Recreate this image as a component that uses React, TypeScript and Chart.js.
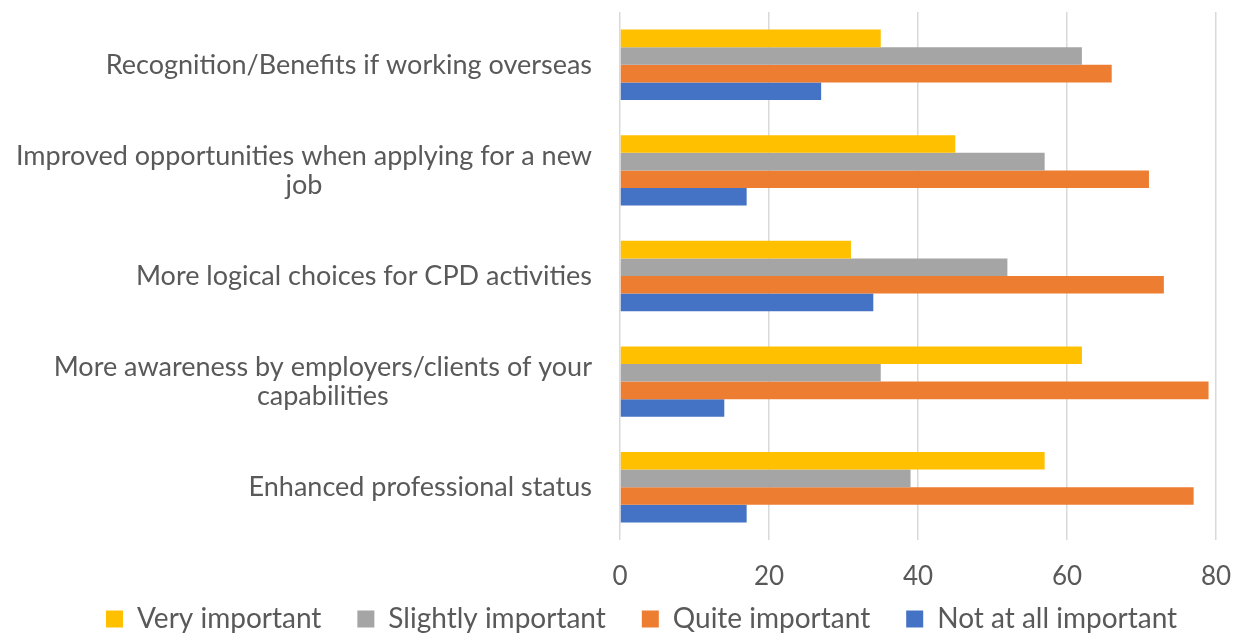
import React, { useEffect, useRef } from "react";
import { Chart, registerables } from "chart.js";

Chart.register(...registerables);

const categoryLines: string[][] = [
  ["Recognition/Benefits if working overseas"],
  ["Improved opportunities when applying for a new", "job"],
  ["More logical choices for CPD activities"],
  ["More awareness by employers/clients of your", "capabilities"],
  ["Enhanced professional status"],
];
const categories = categoryLines.map((l) => l.join(" "));

const veryImportant = [35, 45, 31, 62, 57];
const slightlyImportant = [62, 57, 52, 35, 39];
const quiteImportant = [66, 71, 73, 79, 77];
const notAtAllImportant = [27, 17, 34, 14, 17];

const xTicks = [0, 20, 40, 60, 80];

const FONT = "Lato, 'Open Sans', sans-serif";
const TEXT = "#595959";
const CAT_SIZE = 27;
const LINE_H = 29;
const PAD_LEFT = 70;
const LEGEND_GAP = 29;

const yLabelPlugin = {
  id: "yLabels",
  afterLayout(chart: any) {
    const lg = chart.legend;
    if (!lg) return;
    lg.top = chart.chartArea.bottom + LEGEND_GAP;
    lg.bottom = chart.height;
    lg.height = lg.bottom - lg.top;
  },
  afterDraw(chart: any) {
    const ctx = chart.ctx;
    const y = chart.scales.y;
    const area = chart.chartArea;
    ctx.save();
    ctx.font = `${CAT_SIZE}px ${FONT}`;
    ctx.fillStyle = TEXT;
    ctx.textBaseline = "middle";
    ctx.textAlign = "center";
    categoryLines.forEach((lines, i) => {
      const cy = y.getPixelForValue(i);
      const w = Math.max(...lines.map((l) => ctx.measureText(l).width));
      const cx = area.left - 28 - w / 2;
      lines.forEach((l, j) => {
        ctx.fillText(l, cx, cy + (j - (lines.length - 1) / 2) * LINE_H);
      });
    });
    ctx.restore();
  },
};

export default function App() {
  const ref = useRef<HTMLCanvasElement>(null);
  useEffect(() => {
    if (!ref.current) return;
    const chart = new Chart(ref.current, {
      type: "bar",
      data: {
        labels: categories,
        datasets: [
          { label: "Very important", data: veryImportant, backgroundColor: "#FFC000" },
          { label: "Slightly important", data: slightlyImportant, backgroundColor: "#A5A5A5" },
          { label: "Quite important", data: quiteImportant, backgroundColor: "#ED7D31" },
          { label: "Not at all important", data: notAtAllImportant, backgroundColor: "#4472C4" },
        ],
      },
      options: {
        indexAxis: "y",
        animation: false,
        responsive: false,
        datasets: { bar: { categoryPercentage: 0.667, barPercentage: 1 } },
        layout: { padding: { left: PAD_LEFT, right: 0, top: 12, bottom: 0 } },
        scales: {
          x: {
            min: 0,
            max: 80,
            afterBuildTicks: (scale: any) => {
              scale.ticks = xTicks.map((v) => ({ value: v }));
            },
            afterFit: (scale: any) => {
              scale.height = 53;
              scale.paddingRight = 29;
              scale.paddingLeft = 0;
            },
            grid: { color: "#D9D9D9", lineWidth: 1.5, drawTicks: false },
            border: { display: false },
            ticks: {
              padding: 21,
              color: TEXT,
              font: { family: FONT, size: 26 },
            },
          },
          y: {
            grid: { display: false },
            border: { display: false },
            ticks: { display: false },
            afterFit: (scale: any) => {
              scale.width = 620 - PAD_LEFT;
            },
          },
        },
        plugins: {
          legend: {
            position: "bottom",
            align: "start",
            maxHeight: 42,
            labels: {
              color: TEXT,
              font: { family: FONT, size: 28 },
              boxWidth: 17,
              boxHeight: 17,
              padding: 36,
            },
          },
          tooltip: { enabled: false },
        },
      },
      plugins: [yLabelPlugin],
    } as any);
    return () => chart.destroy();
  }, []);
  return (
    <div style={{ position: "fixed", left: 0, top: 0, width: 1245, height: 635, background: "#fff" }}>
      <canvas ref={ref} width={1245} height={635} />
    </div>
  );
}
